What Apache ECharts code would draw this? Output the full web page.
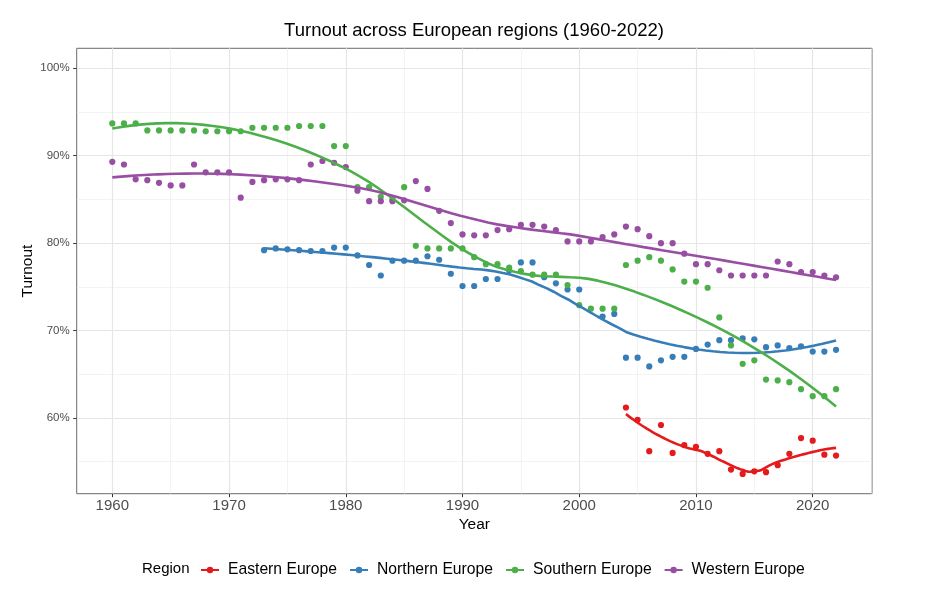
<!DOCTYPE html>
<html><head><meta charset="utf-8">
<script src="https://cdn.jsdelivr.net/npm/echarts@6/dist/echarts.min.js"></script>
<style>html,body{margin:0;padding:0;background:#fff}#c{width:939px;height:605px}</style>
</head><body><div id="c"></div>
<script>
const regions = ['Eastern Europe', 'Northern Europe', 'Southern Europe', 'Western Europe'];
const colors = ['#E41A1C', '#377EB8', '#4DAF4A', '#984EA3'];

const easternYears = [2004,2005,2006,2007,2008,2009,2010,2011,2012,2013,2014,2015,2016,2017,2018,2019,2020,2021,2022];
const easternTurnout = [61.2,59.8,56.2,59.2,56.0,56.9,56.7,55.9,56.2,54.1,53.6,53.9,53.8,54.6,55.9,57.7,57.4,55.8,55.7];

const northernYears = [1973,1974,1975,1976,1977,1978,1979,1980,1981,1982,1983,1984,1985,1986,1987,1988,1989,1990,1991,1992,1993,1994,1995,1996,1997,1998,1999,2000,2002,2003,2004,2005,2006,2007,2008,2009,2010,2011,2012,2013,2014,2015,2016,2017,2018,2019,2020,2021,2022];
const northernTurnout = [79.2,79.4,79.3,79.2,79.1,79.1,79.5,79.5,78.6,77.5,76.3,78.0,78.0,78.0,78.5,78.1,76.5,75.1,75.1,75.9,75.9,76.9,77.8,77.8,76.1,75.4,74.7,74.7,71.6,71.9,66.9,66.9,65.9,66.6,67.0,67.0,67.9,68.4,68.9,68.9,69.1,69.0,68.1,68.3,68.0,68.2,67.6,67.6,67.8];

const southernYears = [1960,1961,1962,1963,1964,1965,1966,1967,1968,1969,1970,1971,1972,1973,1974,1975,1976,1977,1978,1979,1980,1981,1982,1983,1984,1985,1986,1987,1988,1989,1990,1991,1992,1993,1994,1995,1996,1997,1998,1999,2000,2001,2002,2003,2004,2005,2006,2007,2008,2009,2010,2011,2012,2013,2014,2015,2016,2017,2018,2019,2020,2021,2022];
const southernTurnout = [93.7,93.7,93.7,92.9,92.9,92.9,92.9,92.9,92.8,92.8,92.8,92.8,93.2,93.2,93.2,93.2,93.4,93.4,93.4,91.1,91.1,86.4,86.4,85.3,85.0,86.4,79.7,79.4,79.4,79.4,79.4,78.4,77.6,77.6,77.2,76.8,76.4,76.4,76.4,75.2,72.9,72.5,72.5,72.5,77.5,78.0,78.4,78.0,77.0,75.6,75.6,74.9,71.5,68.3,66.2,66.6,64.4,64.3,64.1,63.3,62.5,62.5,63.3];

const westernYears = [1960,1961,1962,1963,1964,1965,1966,1967,1968,1969,1970,1971,1972,1973,1974,1975,1976,1977,1978,1979,1980,1981,1982,1983,1984,1985,1986,1987,1988,1989,1990,1991,1992,1993,1994,1995,1996,1997,1998,1999,2000,2001,2002,2003,2004,2005,2006,2007,2008,2009,2010,2011,2012,2013,2014,2015,2016,2017,2018,2019,2020,2021,2022];
const westernTurnout = [89.3,89.0,87.3,87.2,86.9,86.6,86.6,89.0,88.1,88.1,88.1,85.2,87.0,87.2,87.3,87.3,87.2,89.0,89.4,89.2,88.7,86.0,84.8,84.8,84.8,84.9,87.1,86.2,83.7,82.3,81.0,80.9,80.9,81.5,81.6,82.1,82.1,81.9,81.5,80.2,80.2,80.2,80.7,81.0,81.9,81.6,80.8,80.0,80.0,78.8,77.6,77.6,76.9,76.3,76.3,76.3,76.3,77.9,77.6,76.7,76.7,76.3,76.1];

const xTicks = [1960, 1970, 1980, 1990, 2000, 2010, 2020];
const xMinor = [1965, 1975, 1985, 1995, 2005, 2015, 2025];
const yTicks = [60, 70, 80, 90, 100];
const yMinor = [55, 65, 75, 85, 95];

const groups = [
  [easternYears, easternTurnout],
  [northernYears, northernTurnout],
  [southernYears, southernTurnout],
  [westernYears, westernTurnout]
];

// loess (span 0.75, degree 2, tricube weights), as ggplot2 geom_smooth
function loess(xs, ys, span, n) {
  const N = xs.length, q = Math.floor(N * span);
  const xmin = Math.min(...xs), xmax = Math.max(...xs);
  const out = [];
  for (let k = 0; k < n; k++) {
    const x0 = xmin + (xmax - xmin) * k / (n - 1);
    const d = xs.map(x => Math.abs(x - x0));
    let h = d.slice().sort((a, b) => a - b)[q - 1];
    h = h * 1.0000001;
    const S = [[0,0,0],[0,0,0],[0,0,0]], b = [0,0,0];
    for (let i = 0; i < N; i++) {
      const u = d[i] / h;
      if (u >= 1) continue;
      const w = Math.pow(1 - u * u * u, 3);
      const t = xs[i] - x0;
      const bs = [1, t, t * t];
      for (let r = 0; r < 3; r++) {
        b[r] += w * bs[r] * ys[i];
        for (let c = 0; c < 3; c++) S[r][c] += w * bs[r] * bs[c];
      }
    }
    const A = S.map((row, i) => row.concat([b[i]]));
    for (let i = 0; i < 3; i++) {
      let p = i;
      for (let r = i + 1; r < 3; r++) if (Math.abs(A[r][i]) > Math.abs(A[p][i])) p = r;
      [A[i], A[p]] = [A[p], A[i]];
      for (let r = i + 1; r < 3; r++) {
        const f = A[r][i] / A[i][i];
        for (let c = i; c < 4; c++) A[r][c] -= f * A[i][c];
      }
    }
    const beta = [0,0,0];
    for (let i = 2; i >= 0; i--) {
      let s = A[i][3];
      for (let c = i + 1; c < 3; c++) s -= A[i][c] * beta[c];
      beta[i] = s / A[i][i];
    }
    out.push([x0, beta[0]]);
  }
  return out;
}

const FONT = '"Liberation Sans", Arial, sans-serif';
const series = [];
series.push({
  type: 'scatter', name: '_grid', data: [], z: 0, silent: true,
  markLine: {
    z: 0, silent: true, symbol: ['none', 'none'], label: { show: false }, animation: false,
    data: [
      ...xMinor.map(v => ({ xAxis: v, lineStyle: { color: '#ebebeb', width: 0.6, type: 'solid' } })),
      ...yMinor.map(v => ({ yAxis: v, lineStyle: { color: '#ebebeb', width: 0.6, type: 'solid' } })),
      ...xTicks.map(v => ({ xAxis: v, lineStyle: { color: '#e6e6e6', width: 1.2, type: 'solid' } })),
      ...yTicks.map(v => ({ yAxis: v, lineStyle: { color: '#e6e6e6', width: 1.2, type: 'solid' } }))
    ]
  }
});
regions.forEach((r, i) => {
  series.push({
    type: 'line', name: r, z: 6,
    data: loess(groups[i][0], groups[i][1], 0.75, 80),
    showSymbol: false, symbol: 'circle', smooth: false,
    lineStyle: { color: colors[i], width: 2.6 },
    itemStyle: { color: colors[i] }
  });
});
regions.forEach((r, i) => {
  series.push({
    type: 'scatter', name: r, z: 5,
    data: groups[i][0].map((y, j) => [y, groups[i][1][j]]),
    symbol: 'circle', symbolSize: 6.2,
    itemStyle: { color: colors[i], opacity: 1 }
  });
});

const chart = echarts.init(document.getElementById('c'), null, { renderer: 'canvas' });
chart.setOption({
  animation: false,
  backgroundColor: '#ffffff',
  grid: { left: 76.7, right: 67, top: 48.3, bottom: 111.3, show: true, borderColor: '#6b6b6b', borderWidth: 1, backgroundColor: '#ffffff', containLabel: false },
  xAxis: {
    type: 'value', min: 1956.95, max: 2025.08,
    name: 'Year', nameLocation: 'middle', nameGap: 23, nameMoveOverlap: false,
    nameTextStyle: { fontSize: 15.5, color: '#000', fontFamily: FONT },
    axisLine: { show: false },
    axisTick: { show: true, length: 3.5, customValues: xTicks, lineStyle: { color: '#333', width: 1 } },
    axisLabel: { customValues: xTicks, fontSize: 15, color: '#4d4d4d', fontFamily: FONT, margin: 5, formatter: v => String(v) },
    splitLine: { show: false }
  },
  yAxis: {
    type: 'value', min: 51.34, max: 102.29,
    name: 'Turnout', nameLocation: 'middle', nameGap: 41, nameMoveOverlap: false,
    nameTextStyle: { fontSize: 15.5, color: '#000', fontFamily: FONT },
    axisLine: { show: false },
    axisTick: { show: true, length: 3.5, customValues: yTicks, lineStyle: { color: '#333', width: 1 } },
    axisLabel: { customValues: yTicks, fontSize: 11.5, color: '#4d4d4d', fontFamily: FONT, margin: 7, formatter: v => v + '%' },
    splitLine: { show: false }
  },
  legend: {
    data: regions, left: 195, top: 557, orient: 'horizontal',
    itemWidth: 18, itemHeight: 8, itemGap: 12,
    textStyle: { fontSize: 15.7, color: '#000', fontFamily: FONT, padding: [0, 0, 0, 4] },
    selectedMode: false
  },
  graphic: [
    { type: 'text', x: 474, y: 31, style: { text: 'Turnout across European regions (1960-2022)', align: 'center', verticalAlign: 'middle', fontSize: 18.5, fontFamily: FONT, fill: '#000' } },
    { type: 'text', x: 142, y: 569, style: { text: 'Region', align: 'left', verticalAlign: 'middle', fontSize: 15, fontFamily: FONT, fill: '#000' } }
  ],
  series: series
});
</script>
</body></html>
